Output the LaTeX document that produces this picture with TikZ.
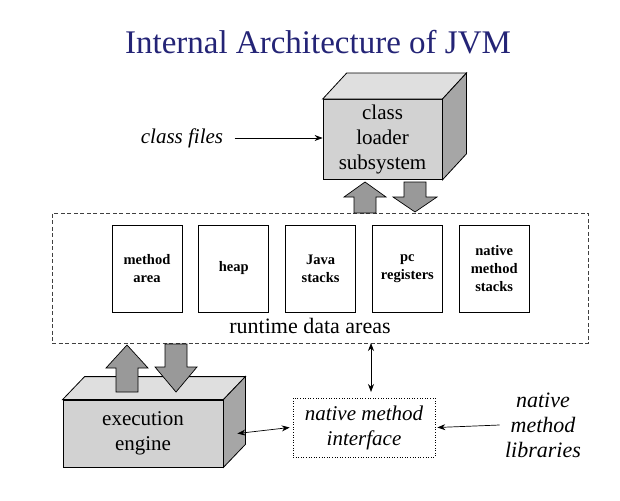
\documentclass[tikz,border=0pt]{standalone}
\usepackage{fontspec}
\setmainfont{Liberation Serif}
\usetikzlibrary{positioning,arrows.meta}

\definecolor{titleblue}{RGB}{36,36,118}

\tikzset{
    front/.style={draw,fill=gray!35,line width=0.8pt,align=center,
        font=\rmfamily\fontsize{21}{25}\selectfont},
    topface/.style={draw,fill=gray!25,line width=0.8pt},
    sideface/.style={draw,fill=gray!70,line width=0.8pt},
    fatarrow/.style={draw,fill=gray!80,line width=0.7pt,line join=miter},
    area/.style={draw,line width=0.8pt,minimum width=70,minimum height=87,
        align=center,font=\rmfamily\bfseries\fontsize{14.5}{18}\selectfont},
    conn/.style={line width=0.7pt,-{Stealth[length=8pt,width=6pt]}},
    biconn/.style={line width=0.7pt,{Stealth[length=8pt,width=6pt]}-{Stealth[length=8pt,width=6pt]}},
    itlabel/.style={align=center,font=\rmfamily\itshape\fontsize{21}{25}\selectfont}
}

\begin{document}
\begin{tikzpicture}[x=1pt,y=-1pt]
\useasboundingbox (0,0) rectangle (620,500);

% Title
\node[text=titleblue,font=\rmfamily\fontsize{33}{38}\selectfont] (title) at (318,42) {Internal Architecture of JVM};

% Class loader subsystem (box)
\node[front,minimum width=119,minimum height=80] (cls) at (382.5,139.5) {class\\loader\\subsystem};
\draw[topface] (cls.north west) -- ([shift={(24,-26)}]cls.north west) -- ([shift={(24,-26)}]cls.north east) -- (cls.north east) -- cycle;
\draw[sideface] (cls.north east) -- ([shift={(24,-26)}]cls.north east) -- ([shift={(24,-26)}]cls.south east) -- (cls.south east) -- cycle;

\node[itlabel] (clf) at (182,138) {class files};
\draw[conn] ([xshift=8]clf.east) -- (clf.east -| cls.west);

% Runtime data areas
\node[draw=black!75,line width=0.8pt,dash pattern=on 4pt off 2.5pt,minimum width=536,minimum height=130] (rda) at (320,278) {};
\node[area] (ma) at (147,268.5) {method\\area};
\node[area,right=16 of ma] (hp) {heap};
\node[area,right=16 of hp] (js) {Java\\stacks};
\node[area,right=16 of js] (pc) {pc\\registers};
\node[area,right=16 of pc] (nms) {native\\method\\stacks};
\node[font=\rmfamily\fontsize{22}{26}\selectfont] (rdalabel) at (310,326) {runtime data areas};

% Class loader <-> runtime data areas
\draw[fatarrow] (365,182) -- (386,197) -- (376,197) -- (376,213) -- (354,213) -- (354,197) -- (344,197) -- cycle;
\draw[fatarrow] (404,182) -- (426,182) -- (426,197) -- (437,197) -- (415,212) -- (393,197) -- (404,197) -- cycle;

% Execution engine (box)
\node[front,minimum width=160,minimum height=67] (ee) at (143,433.5) {execution\\engine};
\draw[topface] (ee.north west) -- ([shift={(22,-23)}]ee.north west) -- ([shift={(22,-23)}]ee.north east) -- (ee.north east) -- cycle;
\draw[sideface] (ee.north east) -- ([shift={(22,-23)}]ee.north east) -- ([shift={(22,-23)}]ee.south east) -- (ee.south east) -- cycle;

\draw[fatarrow] (127,345) -- (148,368) -- (138,368) -- (138,392) -- (116,392) -- (116,368) -- (106,368) -- cycle;
\draw[fatarrow] (165,344) -- (187,344) -- (187,367) -- (197,367) -- (176,392) -- (155,367) -- (165,367) -- cycle;

% Native method interface
\node[draw,dotted,line width=0.6pt,minimum width=142,minimum height=59,itlabel] (nmi) at (364,427.5) {native method\\interface};
\node[itlabel,font=\rmfamily\itshape\fontsize{22}{25}\selectfont] (nml) at (543,425) {native\\method\\libraries};

\coordinate (rdab) at (371,343);
\coordinate (nmit) at (371,392);
\draw[biconn] (rdab) -- (nmit);
\draw[biconn] ([xshift=14]ee.east) -- ([xshift=-3]nmi.west);
\draw[conn] ([xshift=-2]nml.west) -- ([xshift=2]nmi.east);
\end{tikzpicture}
\end{document}
